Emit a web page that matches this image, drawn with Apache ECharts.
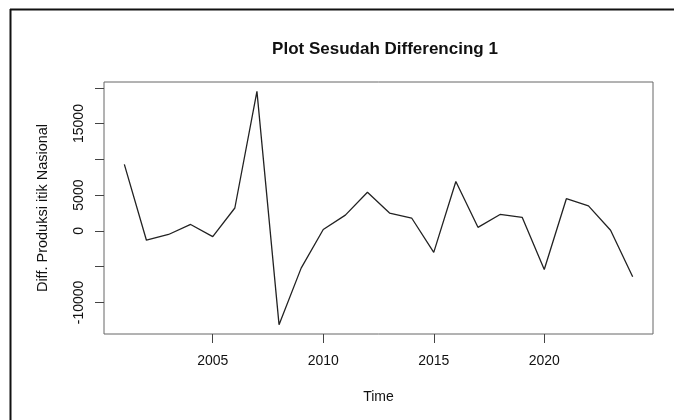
<!DOCTYPE html>
<html>
<head>
<meta charset="utf-8">
<script src="https://cdn.jsdelivr.net/npm/echarts@6/dist/echarts.min.js"></script>
<style>
html, body { margin: 0; padding: 0; background: #fff; }
#chart { width: 674px; height: 420px; }
</style>
</head>
<body>
<div id="chart"></div>
<script>
// data
var years = [2001, 2002, 2003, 2004, 2005, 2006, 2007, 2008, 2009, 2010, 2011, 2012,
             2013, 2014, 2015, 2016, 2017, 2018, 2019, 2020, 2021, 2022, 2023, 2024];
var diffVals = [9300, -1300, -500, 900, -800, 3200, 19500, -13100, -5200, 200, 2200, 5400,
                2500, 1800, -3000, 6900, 500, 2300, 1900, -5400, 4500, 3500, 100, -6400];
var xTicks = [2005, 2010, 2015, 2020];
var yTicks = [-10000, -5000, 0, 5000, 10000, 15000, 20000];
var yLabels = [-10000, 0, 5000, 15000];

// R style axis limits: data range + 4% each side
var xPad = (years[years.length - 1] - years[0]) * 0.04;
var yMinV = Math.min.apply(null, diffVals), yMaxV = Math.max.apply(null, diffVals);
var yPad = (yMaxV - yMinV) * 0.04;

var pts = [];
for (var i = 0; i < years.length; i++) {
    pts.push([years[i], diffVals[i]]);
}

var font = 'Liberation Sans, Arial, sans-serif';
var chart = echarts.init(document.getElementById('chart'));
var option = {
    backgroundColor: '#fff',
    animation: false,
    title: {
        text: 'Plot Sesudah Differencing 1',
        left: 380,
        textAlign: 'center',
        top: 36,
        textStyle: { fontFamily: font, fontSize: 17, fontWeight: 'bold', color: '#111' }
    },
    grid: {
        left: 104, top: 82, right: 21, bottom: 86,
        show: true,
        borderColor: '#666',
        borderWidth: 1
    },
    xAxis: {
        type: 'value',
        min: years[0] - xPad,
        max: years[years.length - 1] + xPad,
        name: 'Time',
        nameLocation: 'middle',
        nameGap: 56,
        nameTextStyle: { fontFamily: font, fontSize: 14, color: '#111' },
        axisLine: { show: false, onZero: false },
        splitLine: { show: false },
        axisTick: {
            show: true, inside: false, length: 9,
            customValues: xTicks,
            lineStyle: { color: '#444', width: 1 }
        },
        axisLabel: {
            customValues: xTicks,
            margin: 20,
            formatter: function (v) { return String(v); },
            fontFamily: font, fontSize: 14, color: '#111'
        }
    },
    yAxis: {
        type: 'value',
        min: yMinV - yPad,
        max: yMaxV + yPad,
        name: 'Diff. Produksi itik Nasional',
        nameLocation: 'middle',
        nameRotate: 90,
        nameGap: 54,
        nameTextStyle: { fontFamily: font, fontSize: 14.5, color: '#111' },
        axisLine: { show: false, onZero: false },
        splitLine: { show: false },
        axisTick: {
            show: true, inside: false, length: 9,
            customValues: yTicks,
            lineStyle: { color: '#444', width: 1 }
        },
        axisLabel: {
            customValues: yLabels,
            rotate: 90,
            margin: 18,
            formatter: function (v) { return String(v); },
            fontFamily: font, fontSize: 14, color: '#111'
        }
    },
    series: [{
        type: 'line',
        data: pts,
        showSymbol: false,
        lineStyle: { color: '#222', width: 1.3 }
    }],
    graphic: [
        { type: 'line', shape: { x1: 10, y1: 9.5, x2: 674, y2: 9.5 }, style: { stroke: '#111', lineWidth: 2 } },
        { type: 'line', shape: { x1: 10.5, y1: 9, x2: 10.5, y2: 420 }, style: { stroke: '#111', lineWidth: 2 } }
    ]
};
chart.setOption(option);
</script>
</body>
</html>
